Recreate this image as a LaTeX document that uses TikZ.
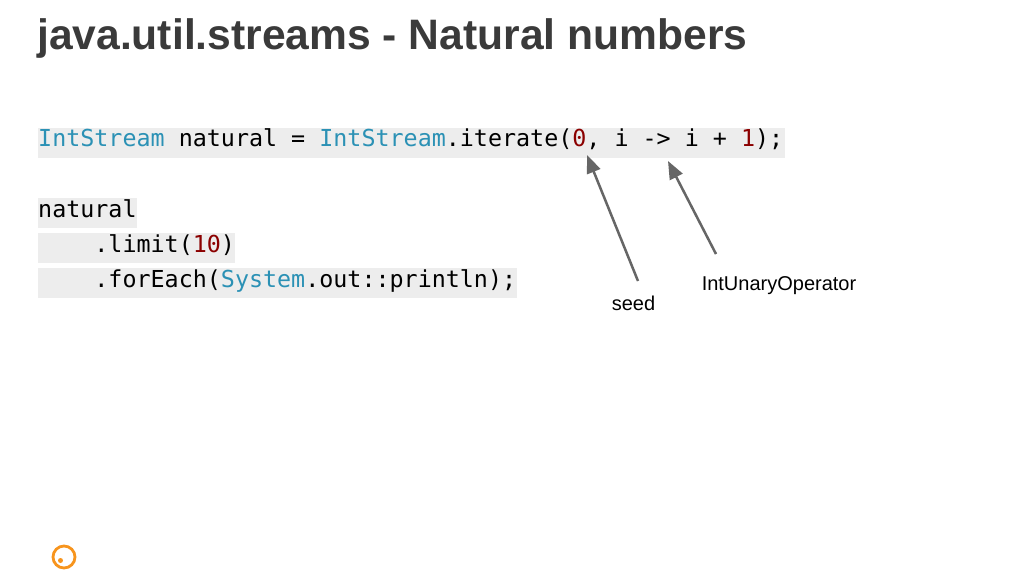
\documentclass[tikz,border=0pt]{standalone}
\usepackage{fontspec}
\setmainfont{Liberation Sans}
\newfontfamily\codefont{DejaVu Sans Mono}
\usetikzlibrary{arrows.meta}
\definecolor{titlegray}{HTML}{3A3A3A}
\definecolor{codebg}{HTML}{EDEDED}
\definecolor{kwblue}{HTML}{2B91B5}
\definecolor{numred}{HTML}{8B0000}
\definecolor{arrowgray}{HTML}{666666}
\definecolor{iconorange}{HTML}{F7941D}
\newcommand{\kw}[1]{\textcolor{kwblue}{#1}}
\newcommand{\num}[1]{\textcolor{numred}{#1}}
\tikzset{
  x=1pt,y=-1pt,
  codeline/.style={anchor=base west,inner sep=0pt,font=\fontsize{23.35}{28}\codefont,text=black},
  bgbar/.style={fill=codebg,draw=none},
  pointer/.style={draw=arrowgray,line width=2.5pt,-{Triangle[length=18pt,width=14pt]},shorten >=0pt},
  note/.style={anchor=base,inner sep=0pt,font=\fontsize{20}{24}\selectfont,text=black},
}
\begin{document}
\begin{tikzpicture}
\useasboundingbox (0,0) rectangle (1024,576);
\fill[white] (0,0) rectangle (1024,576);
\node[anchor=base west,inner sep=0pt,font=\fontsize{42.6}{48}\selectfont\bfseries,text=titlegray] (title) at (37,49) {java.util.streams - Natural numbers};
\fill[bgbar] (38,128) rectangle (785,158);
\fill[bgbar] (38,198) rectangle (137,228);
\fill[bgbar] (38,233) rectangle (235,263);
\fill[bgbar] (38,268) rectangle (517,298);
\node[codeline] (l1) at (38,146) {\kw{IntStream} natural = \kw{IntStream}.iterate(\num{0}, i -> i + \num{1});};
\node[codeline] (l2) at (38,217) {natural};
\node[codeline] (l3) at (38,252) {\phantom{....}.limit(\num{10})};
\node[codeline] (l4) at (38,287) {\phantom{....}.forEach(\kw{System}.out::println);};
\node[note] (seed) at (633.5,310) {seed};
\node[note] (iuo) at (779,290) {IntUnaryOperator};
\coordinate (seedstart) at (638,281);
\coordinate (seedtip) at (587,155);
\coordinate (iuostart) at (716,254);
\coordinate (iuotip) at (668,161);
\draw[pointer] (seedstart) -- (seedtip);
\draw[pointer] (iuostart) -- (iuotip);
\draw[iconorange,line width=2.8pt] (64,557) circle[radius=11];
\fill[iconorange] (60.5,560.5) circle[radius=2.5];
\end{tikzpicture}
\end{document}
